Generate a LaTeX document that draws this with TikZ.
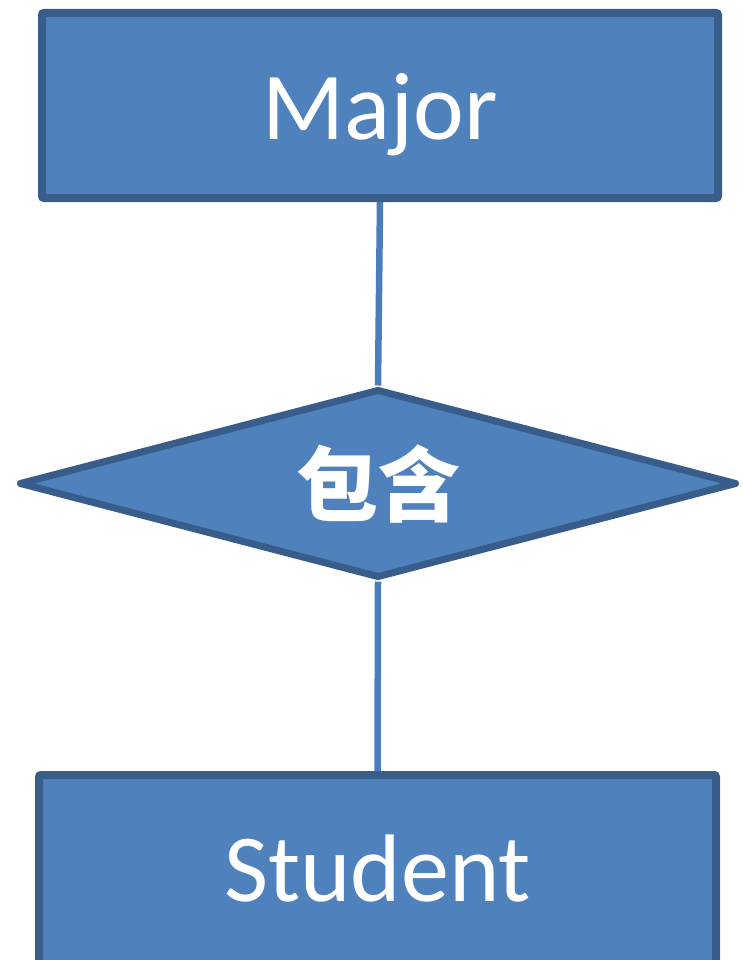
\documentclass[tikz,border=0pt]{standalone}
\usepackage{fontspec}
\setmainfont{Carlito}
\newfontfamily\cjk{Noto Sans CJK SC}
\usetikzlibrary{shapes.geometric}
\definecolor{fillblue}{HTML}{4F81BD}
\definecolor{edgeblue}{HTML}{385D8A}
\definecolor{lineblue}{HTML}{4A7EBB}
\tikzset{
  entity/.style={rectangle, draw=edgeblue, fill=fillblue, line width=8pt, rounded corners=2pt,
    text=white, font=\fontsize{96}{110}\selectfont, inner sep=0pt},
  relation/.style={diamond, draw=edgeblue, fill=fillblue, line width=7pt, line join=round,
    text=white, font=\cjk\bfseries\fontsize{82}{90}\selectfont, inner sep=0pt, aspect=3.8},
  link/.style={draw=lineblue, line width=6.5pt}
}
\begin{document}
\begin{tikzpicture}[x=1pt,y=-1pt]
\useasboundingbox (0,0) rectangle (742,960);
\node[entity, minimum width=676pt, minimum height=185pt] (major) at (380,105.5) {};
\node[text=white, font=\fontsize{96}{110}\selectfont] (majort) at (380,115) {Major};
\node[relation, minimum width=718pt, minimum height=189pt] (rel) at (378,483.5) {};
\node[text=white, font=\cjk\bfseries\fontsize{82}{90}\selectfont] (relt) at (378,484) {包含};
\node[entity, minimum width=677pt, minimum height=189pt] (student) at (377.5,869.5) {};
\node[text=white, font=\fontsize{96}{110}\selectfont] (studentt) at (377.5,869) {Student};
\draw[link] (major.south) -- (rel.north);
\draw[link] (rel.south) -- (student.north);
\end{tikzpicture}
\end{document}
